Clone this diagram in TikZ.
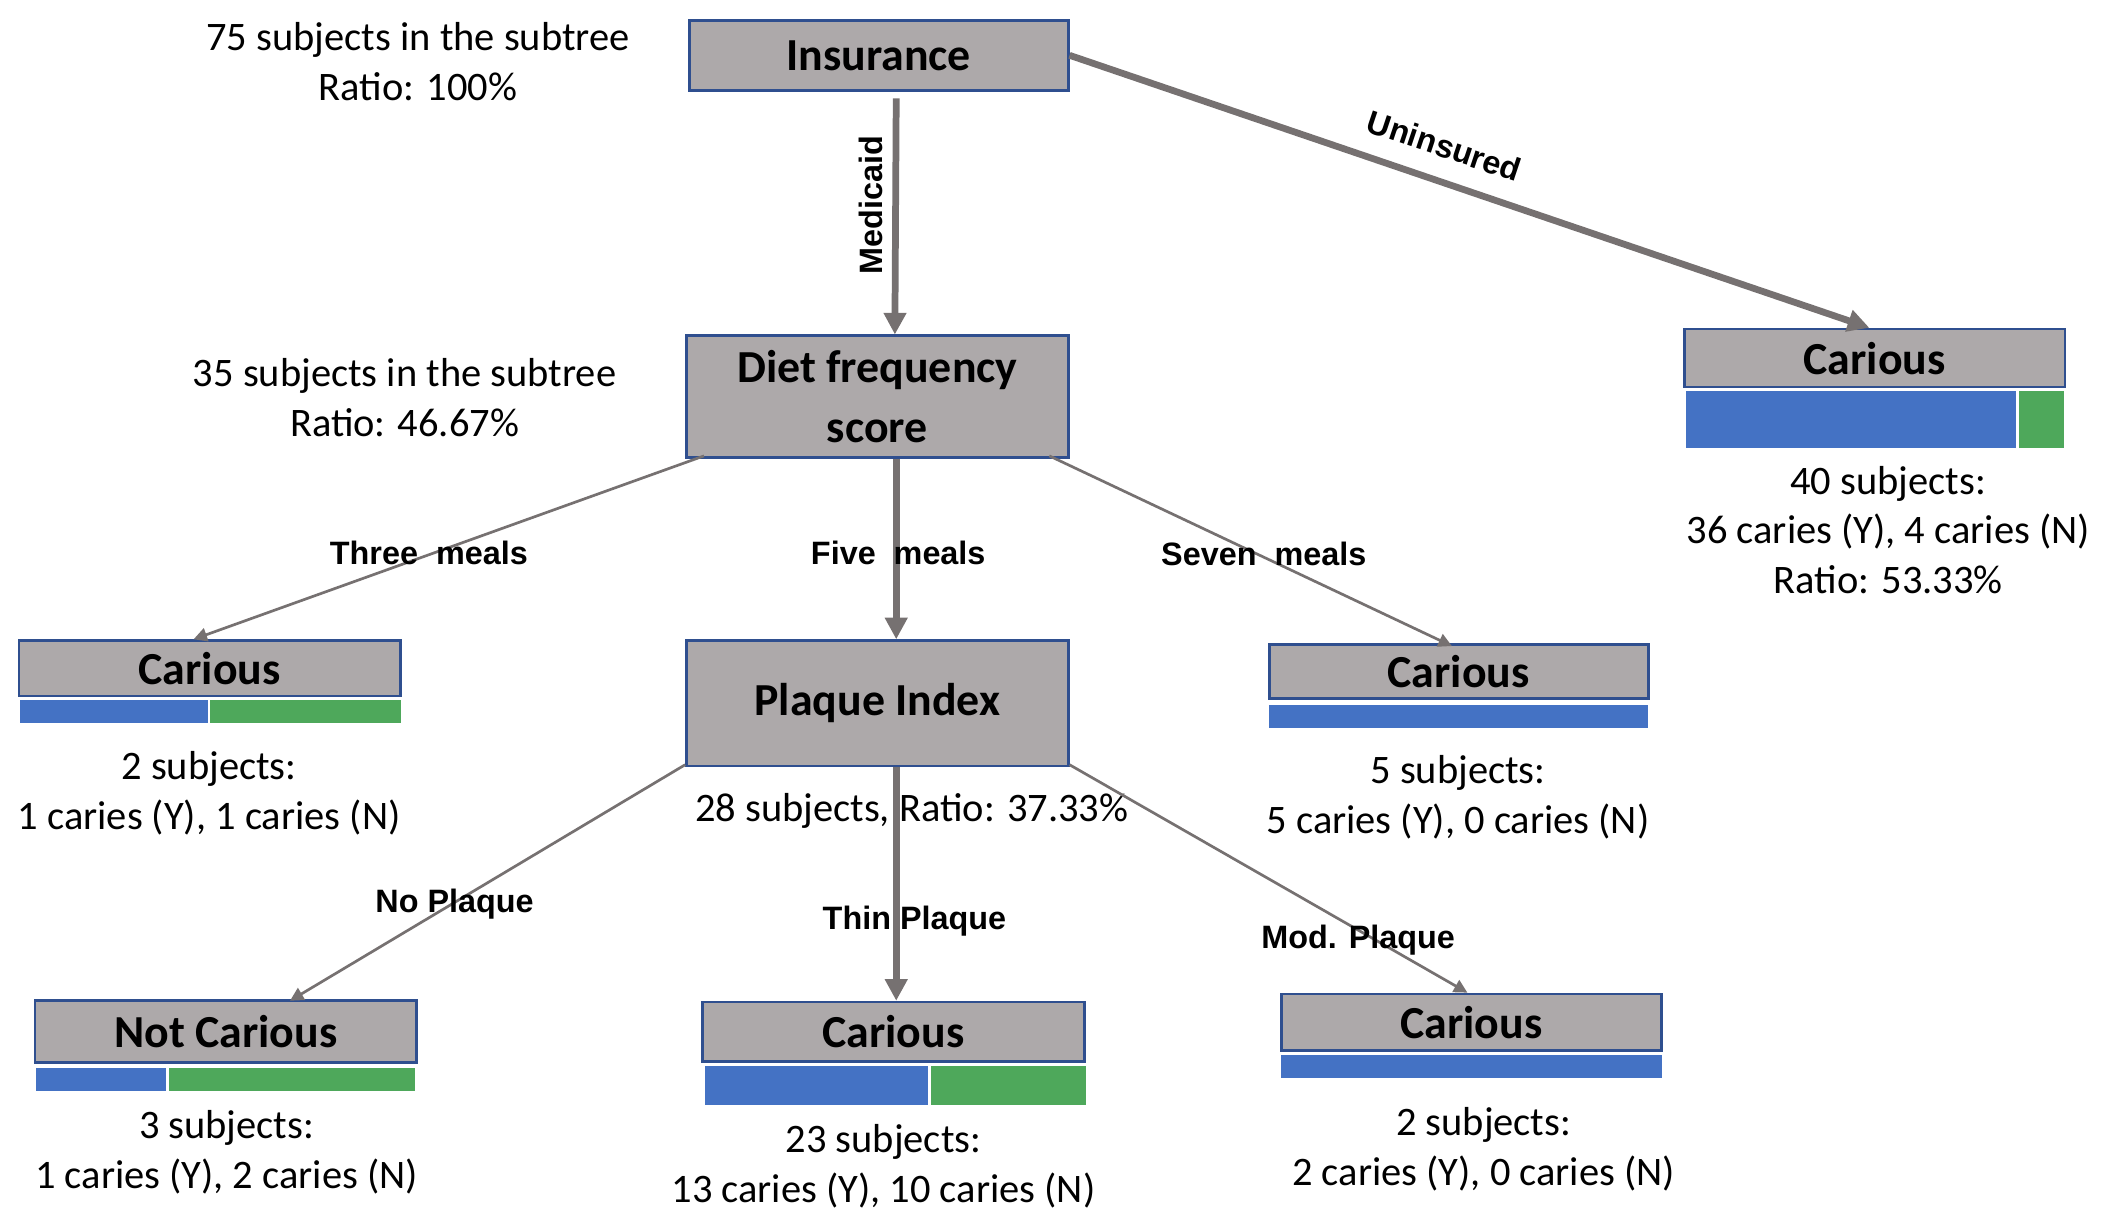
\documentclass[tikz,border=0pt]{standalone}
\usepackage{fontspec}
\setmainfont{Carlito}
\newfontfamily\lab{Liberation Sans}
\usetikzlibrary{arrows.meta}
\definecolor{bfill}{HTML}{ADA9AA}
\definecolor{bline}{HTML}{2F4F8F}
\definecolor{acol}{HTML}{767171}
\definecolor{cblue}{HTML}{4472C4}
\definecolor{cgreen}{HTML}{4EA85B}
\begin{document}
\begin{tikzpicture}[x=1pt,y=-1pt,
 box/.style={draw=bline,line width=2pt,fill=bfill,font=\fontsize{34}{44}\selectfont\bfseries,align=center,inner sep=0pt},
 info/.style={font=\fontsize{30}{37}\selectfont,align=center},
 elab/.style={font=\lab\fontsize{24}{26}\selectfont\bfseries},
 thick arr/.style={draw=acol,line width=5pt,-{Triangle[length=16pt,width=16pt]}},
 thin arr/.style={draw=acol,line width=2pt,-{Triangle[length=10pt,width=10pt]}}]
\useasboundingbox (0,0) rectangle (1560,906);
\newcommand\bx[6]{\node[box,minimum width=#4-#2-2,minimum height=#5-#3-2] (#1) at ({(#2+#4)/2},{(#3+#5)/2}) {#6};}
\newcommand\br[6]{\fill[#1] (#2,#3) rectangle (#4,#5); \coordinate (#6) at ({(#2+#4)/2},#3);}
\bx{ins}{510}{14}{793}{68}{Insurance}
\bx{diet}{508}{248}{793}{340}{Diet frequency\\score}
\bx{cl}{13}{474}{298}{517}{Carious}
\bx{pi}{508}{474}{793}{569}{Plaque Index}
\bx{cs}{940}{477}{1223}{519}{Carious}
\bx{cr}{1248}{243}{1532}{288}{Carious}
\bx{nc}{25}{741}{310}{789}{Not Carious}
\bx{ct}{520}{742}{805}{788}{Carious}
\bx{cm}{949}{736}{1233}{780}{Carious}
\br{cblue}{15}{519}{154}{536}{b1}
\br{cgreen}{156}{519}{297}{536}{g1}
\br{cblue}{941}{523}{1222}{540}{b2}
\br{cblue}{1250}{290}{1495}{332}{b3}
\br{cgreen}{1497}{290}{1530}{332}{g3}
\br{cblue}{27}{792}{123}{809}{b4}
\br{cgreen}{125}{792}{308}{809}{g4}
\br{cblue}{523}{790}{688}{819}{b5}
\br{cgreen}{690}{790}{805}{819}{g5}
\br{cblue}{950}{782}{1232}{799}{b6}
\node[info] (t1) at (310,46) {75 subjects in the subtree\\Ratio: 100\%};
\node[info] (t2) at (300,295) {35 subjects in the subtree\\Ratio: 46.67\%};
\node[info] (t3) at (155,588) {2 subjects:\\1 caries (Y), 1 caries (N)};
\node[info] (t4) at (676,601) {28 subjects, Ratio: 37.33\%};
\node[info] (t5) at (1081,591) {5 subjects:\\5 caries (Y), 0 caries (N)};
\node[info] (t6) at (1400,393) {40 subjects:\\36 caries (Y), 4 caries (N)\\Ratio: 53.33\%};
\node[info] (t7) at (168,854) {3 subjects:\\1 caries (Y), 2 caries (N)};
\node[info] (t8) at (655,865) {23 subjects:\\13 caries (Y), 10 caries (N)};
\node[info] (t9) at (1100,852) {2 subjects:\\2 caries (Y), 0 caries (N)};
\draw[thick arr] ([xshift=13pt,yshift=-5pt]ins.south) -- ([xshift=13pt]diet.north);
\draw[thick arr] (ins.east) -- ([xshift=-4pt]cr.north);
\draw[thick arr] ([xshift=14pt]diet.south) -- ([xshift=14pt]pi.north);
\draw[thin arr] ([xshift=14pt,yshift=2pt]diet.south west) -- ([xshift=-12pt]cl.north);
\draw[thin arr] ([xshift=-15pt,yshift=2pt]diet.south east) -- ([xshift=-5pt,yshift=-2pt]cs.north);
\draw[thick arr] ([xshift=14pt]pi.south) -- ([xshift=2pt]ct.north);
\draw[thin arr] ([yshift=2pt]pi.south west) -- ([xshift=190pt,yshift=-1pt]nc.north west);
\draw[thin arr] ([yshift=2pt]pi.south east) -- ([xshift=-3pt]cm.north);
\node[elab,rotate=90] (lm) at (646,152) {Medicaid};
\node[elab,rotate=-18.5] (lu) at (1071,108) {Uninsured};
\node[elab] (l3) at (318,410) {Three~ meals};
\node[elab] (l5) at (666,410) {Five~ meals};
\node[elab] (l7) at (937,411) {Seven~ meals};
\node[elab] (ln) at (337,670) {No Plaque};
\node[elab] (lt) at (678,683) {Thin Plaque};
\node[elab] (lmo) at (1007,697) {Mod. Plaque};
\end{tikzpicture}
\end{document}
